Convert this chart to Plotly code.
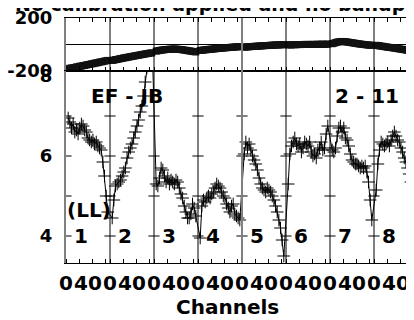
import plotly.graph_objects as go

# ---------------- data ----------------
CHANNELS = [4, 7, 10, 13, 16, 19, 22, 25, 28, 31, 34, 37, 40, 43, 46, 49, 52, 55, 58, 61, 64, 67, 70, 73, 76]
PANEL_WIDTH = 80
PANEL_LABELS = ["1", "2", "3", "4", "5", "6", "7", "8"]
XTICK_CH = [0, 40]
XTICK_TEXT = ["0", "40"]
XMINOR_CH = [0, 24, 48, 72]

AMP_1 = [6.95, 6.85, 6.7, 6.8, 6.6, 6.65, 6.55, 6.7, 6.8, 6.75, 6.65, 6.6, 6.45, 6.4, 6.35, 6.4, 6.3, 6.35, 6.25, 6.2, 6.15, 5.85, 5.5, 5.0, 4.6]
AMP_2 = [4.45, 4.9, 5.25, 5.3, 5.35, 5.4, 5.5, 5.6, 5.7, 5.95, 6.1, 6.2, 6.3, 6.45, 6.6, 6.75, 6.9, 7.1, 7.25, 7.5, 7.85, 8.2, 8.5, 8.8, 9.1]
AMP_3 = [5.3, 5.25, 5.45, 5.7, 5.65, 5.5, 5.35, 5.45, 5.3, 5.4, 5.35, 5.3, 5.4, 5.35, 5.2, 5.05, 4.95, 4.75, 4.6, 4.45, 4.45, 4.55, 4.8, 4.7, 4.5]
AMP_4 = [3.95, 4.75, 4.9, 4.85, 4.95, 5.0, 4.95, 5.05, 5.1, 5.2, 5.3, 5.25, 5.2, 5.1, 5.0, 4.95, 4.8, 4.7, 4.6, 4.75, 4.8, 4.55, 4.5, 4.45, 4.4]
AMP_5 = [6.05, 6.35, 6.2, 6.3, 6.15, 6.0, 5.9, 5.8, 5.65, 5.45, 5.3, 5.2, 5.15, 5.1, 5.2, 5.15, 5.1, 5.0, 4.9, 4.75, 4.6, 4.4, 4.2, 3.9, 3.5]
AMP_6 = [5.3, 6.05, 6.25, 6.35, 6.45, 6.3, 6.25, 6.3, 6.1, 6.2, 6.35, 6.3, 6.25, 6.35, 6.1, 6.0, 6.05, 5.95, 6.15, 6.2, 6.35, 6.15, 6.2, 6.55, 6.75]
AMP_7 = [6.15, 6.1, 6.2, 6.5, 6.7, 6.75, 6.6, 6.7, 6.45, 6.4, 6.25, 6.05, 5.9, 5.85, 5.8, 5.8, 5.75, 5.7, 5.75, 5.7, 5.75, 5.6, 5.35, 4.9, 4.4]
AMP_8 = [5.15, 5.8, 6.15, 6.35, 6.3, 6.25, 6.3, 6.35, 6.25, 6.4, 6.5, 6.6, 6.5, 6.4, 6.35, 6.2, 6.1, 5.95, 5.85, 5.7, 5.55, 5.35, 5.2, 5.0, 4.8]

PHASE_1 = [-184, -179, -178, -175, -174, -169, -168, -164, -163, -159, -158, -154, -152, -150, -146, -145, -141, -139, -137, -133, -131, -129, -125, -123, -120]
PHASE_2 = [-120, -118, -114, -113, -109, -107, -105, -101, -100, -97, -95, -92, -90, -88, -85, -83, -81, -78, -76, -74, -71, -69, -67, -65, -63]
PHASE_3 = [-50, -47, -45, -43, -41, -39, -38, -37, -36, -35, -35, -34, -35, -36, -37, -38, -40, -42, -44, -46, -48, -50, -52, -54, -56]
PHASE_4 = [-45, -43, -42, -40, -39, -37, -36, -35, -34, -32, -31, -30, -29, -28, -26, -25, -24, -23, -22, -21, -20, -19, -18, -17, -16]
PHASE_5 = [-20, -19, -18, -17, -16, -15, -14, -13, -13, -12, -11, -10, -9, -8, -8, -7, -6, -5, -5, -4, -3, -3, -2, -2, -1]
PHASE_6 = [-3, -2, -3, -1, -2, -1, 0, -1, 0, 0, 1, 0, 1, 0, 1, 1, 0, 1, 2, 1, 2, 2, 1, 2, 3]
PHASE_7 = [6, 10, 14, 18, 20, 22, 23, 22, 21, 19, 17, 15, 13, 11, 9, 7, 5, 3, 2, 0, -1, -3, -4, -5, -6]
PHASE_8 = [-6, -8, -10, -12, -14, -16, -18, -20, -22, -23, -25, -27, -29, -31, -33, -35, -37, -39, -41, -43, -45, -47, -49, -51, -53]

AMP_TICKS = [4, 5, 6, 7]
AMP_LABELS = [4, 6, 8]

# ---------------- build ----------------
AMPS = [AMP_1, AMP_2, AMP_3, AMP_4, AMP_5, AMP_6, AMP_7, AMP_8]
PHASES = [PHASE_1, PHASE_2, PHASE_3, PHASE_4, PHASE_5, PHASE_6, PHASE_7, PHASE_8]
NP = len(PANEL_LABELS)

OFF = 8                      # page body margin
W, H = 414, 320
L, R, T, B = 66 - OFF, 0, 18 - OFF, H - (263 - OFF)
PW, PH = W - L - R, H - T - B
PANEL_PX = 44
XMAX = PW / PANEL_PX * PANEL_WIDTH
SPLIT = 1 - 53 / PH

xs, amp, ph = [], [], []
for i in range(NP):
    for c, a, p in zip(CHANNELS, AMPS[i], PHASES[i]):
        xs.append(i * PANEL_WIDTH + c)
        amp.append(a)
        ph.append(p)

FONT = dict(family="DejaVu Sans", size=20, color="black", weight="bold")
YFONT = dict(FONT, size=18)

fig = go.Figure()
fig.add_trace(go.Scatter(x=xs, y=ph, xaxis="x", yaxis="y", mode="lines+markers",
                         line=dict(color="black", width=1),
                         marker=dict(symbol="square", size=7, color="#111111",
                                     line=dict(width=0)),
                         hoverinfo="skip", showlegend=False))
fig.add_trace(go.Scatter(x=xs, y=amp, xaxis="x2", yaxis="y2", mode="lines+markers",
                         line=dict(color="black", width=1),
                         marker=dict(symbol="cross-thin", size=9,
                                     line=dict(width=1, color="black")),
                         hoverinfo="skip", showlegend=False))

# y tick marks on every panel boundary
bx, by = [], []
for i in range(NP + 1):
    for t in AMP_TICKS:
        bx.append(i * PANEL_WIDTH)
        by.append(t)
fig.add_trace(go.Scatter(x=bx, y=by, xaxis="x2", yaxis="y2", mode="markers",
                         marker=dict(symbol="line-ew", size=8,
                                     line=dict(width=1, color="black")),
                         hoverinfo="skip", showlegend=False))

tickvals, ticktext, minor = [], [], []
for i in range(NP + 1):
    for c, t in zip(XTICK_CH, XTICK_TEXT):
        tickvals.append(i * PANEL_WIDTH + c)
        ticktext.append(t)
    for c in XMINOR_CH:
        minor.append(i * PANEL_WIDTH + c)

shapes = []
for i in range(1, NP + 1):
    grey = (i == 4)
    shapes.append(dict(type="line", xref="x", yref="paper",
                       x0=i * PANEL_WIDTH, x1=i * PANEL_WIDTH, y0=0, y1=1,
                       line=dict(color="#808080" if grey else "black",
                                 width=2 if grey else 1)))

def px(x):
    return (x - OFF - L) / PW

def py(y):
    return (H - B - (y - OFF)) / PH

def note(text, x, y, font=FONT, xanchor="center"):
    return dict(text=text, x=px(x), y=py(y), xref="paper", yref="paper",
                xanchor=xanchor, yanchor="middle", showarrow=False, font=font)

TITLE_FONT = dict(FONT, size=19)
ann = [note("No calibration applied and no bandpass applied", 13, 4, TITLE_FONT, "left"),
       note("EF - JB", 126.5, 96),
       note("2 - 11", 366.5, 96),
       note("(LL)", 89, 210)]
for i, lab in enumerate(PANEL_LABELS):
    ann.append(note(lab, 66 + i * PANEL_PX + 15, 236))
ann.append(note("Channels", 227, 307))

fig.update_layout(
    width=W, height=H,
    margin=dict(l=L, r=R, t=T, b=B, pad=0, autoexpand=False),
    paper_bgcolor="white", plot_bgcolor="white",
    font=FONT,
    shapes=shapes, annotations=ann, showlegend=False,
    xaxis=dict(domain=[0, 1], anchor="y", range=[0, XMAX], showline=True,
               mirror="ticks", linecolor="black", linewidth=1,
               tickmode="array", tickvals=minor, ticks="inside", ticklen=4,
               tickcolor="black", showticklabels=False, showgrid=False, zeroline=False,
               automargin=False),
    yaxis=dict(domain=[SPLIT, 1], anchor="x", range=[-200, 200],
               tickmode="array", tickvals=[-200, 200], ticktext=["-200", "200"],
               ticks="", showline=True, linecolor="#808080", linewidth=2,
               showgrid=False, zeroline=True, zerolinecolor="black", zerolinewidth=1,
               tickfont=YFONT, ticklabelstandoff=8, ticklabeloverflow="allow",
               automargin=False),
    xaxis2=dict(domain=[0, 1], anchor="y2", range=[0, XMAX], showline=True,
                mirror=True, linecolor="black", linewidth=1,
                tickmode="array", tickvals=tickvals, ticktext=ticktext, ticks="",
                tickangle=0,
                minor=dict(tickmode="array", tickvals=minor, ticks="inside",
                           ticklen=4, tickcolor="black"),
                showgrid=False, zeroline=False, tickfont=FONT, ticklabelstandoff=2,
                ticklabeloverflow="allow", automargin=False),
    yaxis2=dict(domain=[0, SPLIT], anchor="x2", range=[3.325, 8.125],
                tickmode="array", tickvals=AMP_LABELS, ticks="",
                showline=True, linecolor="#808080", linewidth=2,
                showgrid=False, zeroline=False, tickfont=YFONT, ticklabelstandoff=8,
                ticklabeloverflow="allow", automargin=False),
)

fig.write_html("out.html")
